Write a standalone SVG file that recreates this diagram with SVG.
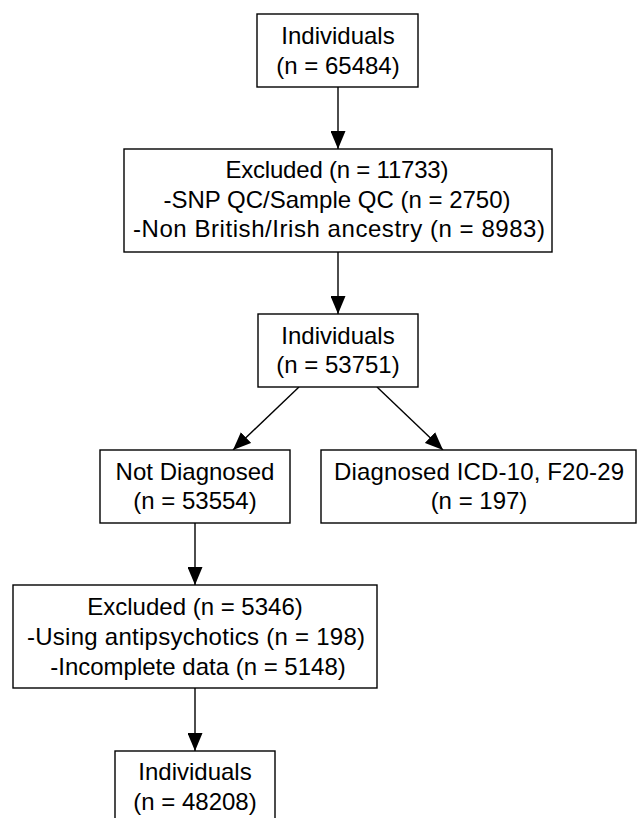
<svg xmlns="http://www.w3.org/2000/svg" width="637" height="818" viewBox="0 0 637 818">
<style>
.box{fill:#fff;stroke:#000;stroke-width:1.4}
.t{font-family:"Liberation Sans",Arial,sans-serif;font-size:24px;fill:#000;text-anchor:middle}
.c{stroke:#000;stroke-width:1.4;fill:none}
</style>
<defs>
<marker id="ah" markerUnits="userSpaceOnUse" markerWidth="18" markerHeight="15" refX="18" refY="7.5" orient="auto">
<path d="M0,0 L18,7.5 L0,15 z" fill="#000"/>
</marker>
</defs>
<rect width="637" height="818" fill="#fff"/>
<g id="connectors">
<line class="c" x1="338" y1="87" x2="338" y2="149" marker-end="url(#ah)"/>
<line class="c" x1="338" y1="252" x2="338" y2="314" marker-end="url(#ah)"/>
<line class="c" x1="299" y1="387" x2="233" y2="450" marker-end="url(#ah)"/>
<line class="c" x1="377" y1="387" x2="443" y2="450" marker-end="url(#ah)"/>
<line class="c" x1="195" y1="523" x2="195" y2="585" marker-end="url(#ah)"/>
<line class="c" x1="195" y1="688" x2="195" y2="751" marker-end="url(#ah)"/>
</g>
<g id="n1">
<rect class="box" x="257" y="14" width="161" height="73"/>
<text class="t" x="338" y="44">Individuals</text>
<text class="t" x="338" y="74">(n = 65484)</text>
</g>
<g id="n2">
<rect class="box" x="124" y="149" width="428" height="103"/>
<text class="t" x="337" y="178" textLength="223">Excluded (n = 11733)</text>
<text class="t" x="337" y="207.5">-SNP QC/Sample QC (n = 2750)</text>
<text class="t" x="339" y="237" textLength="412">-Non British/Irish ancestry (n = 8983)</text>
</g>
<g id="n3">
<rect class="box" x="258" y="314" width="160" height="73"/>
<text class="t" x="338" y="343.5">Individuals</text>
<text class="t" x="338" y="373">(n = 53751)</text>
</g>
<g id="n4">
<rect class="box" x="100" y="450" width="190" height="73"/>
<text class="t" x="195" y="479.5">Not Diagnosed</text>
<text class="t" x="195" y="509">(n = 53554)</text>
</g>
<g id="n5">
<rect class="box" x="321" y="450" width="315" height="73"/>
<text class="t" x="479" y="479.5" textLength="290">Diagnosed ICD-10, F20-29</text>
<text class="t" x="479" y="509">(n = 197)</text>
</g>
<g id="n6">
<rect class="box" x="13" y="585" width="364" height="103"/>
<text class="t" x="195" y="614.5">Excluded (n = 5346)</text>
<text class="t" x="196" y="645" textLength="338">-Using antipsychotics (n = 198)</text>
<text class="t" x="198" y="675">-Incomplete data (n = 5148)</text>
</g>
<g id="n7">
<rect class="box" x="115" y="751" width="160" height="73"/>
<text class="t" x="195" y="780">Individuals</text>
<text class="t" x="195" y="809.5">(n = 48208)</text>
</g>
</svg>
